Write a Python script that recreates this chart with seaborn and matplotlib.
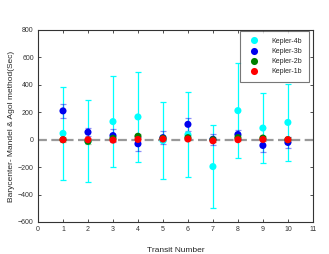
import numpy as np
import pandas as pd
import matplotlib
matplotlib.use("Agg")
import matplotlib.pyplot as plt
import seaborn as sns

transit = [1, 2, 3, 4, 5, 6, 7, 8, 9, 10]

k4_val = [46, -12, 132, 166, -7, 37, -196, 212, 85, 126]
k4_err = [340, 300, 329, 331, 279, 311, 303, 344, 257, 282]

k3_val = [210, 55, 30, -30, 15, 112, 3, 38, -42, -20]
k3_err = [50, 27, 50, 50, 45, 45, 40, 30, 45, 38]

k2_val = [0, -12, 10, 25, 10, 15, 0, 15, 12, 0]
k2_err = [18, 18, 18, 18, 18, 18, 18, 18, 18, 18]

k1_val = [0, 0, -3, 2, 5, 5, -8, 0, 2, 0]
k1_err = [10, 10, 10, 10, 10, 10, 10, 10, 10, 10]

names = ["Kepler-4b", "Kepler-3b", "Kepler-2b", "Kepler-1b"]
colors = ["#00ffff", "#0000ee", "#007f00", "#ff0000"]
vals = [k4_val, k3_val, k2_val, k1_val]
errs = [k4_err, k3_err, k2_err, k1_err]

sns.set_style("ticks")
plt.rcParams['font.family'] = ['Liberation Sans', 'DejaVu Sans']

fig = plt.figure(figsize=(3.29, 2.54), dpi=100)
ax = fig.add_axes([0.1155, 0.126, 0.8355, 0.756])

ax.axhline(0, color="#999999", lw=1.6, ls=(0, (4, 2)), zorder=1)

rows = []
for n, v in zip(names, vals):
    for t, y in zip(transit, v):
        rows.append({"Transit": t, "Value": y, "Planet": n})
df = pd.DataFrame(rows)

err_alpha = [1.0, 0.45, 0.35, 0.3]
for i, (n, c, v, e) in enumerate(zip(names, colors, vals, errs)):
    ax.errorbar(transit, v, yerr=e, fmt="none", ecolor=c, elinewidth=0.9,
                capsize=2.5, capthick=0.9, alpha=err_alpha[i], zorder=2 + i)

sns.scatterplot(data=df, x="Transit", y="Value", hue="Planet",
                hue_order=names, palette=colors, s=26, edgecolor="none",
                ax=ax, zorder=10, legend=True)

ax.set_xlim(0, 11)
ax.set_ylim(-600, 800)
ax.set_xticks(range(0, 12))
ax.set_yticks(range(-600, 801, 200))
ax.tick_params(direction="in", length=2.5, width=0.6, labelsize=5,
               top=True, right=True, colors="#333333", pad=3)
for s in ax.spines.values():
    s.set_linewidth(0.8)
    s.set_color("#333333")
ax.set_xlabel("Transit Number", fontsize=6, labelpad=10)
ax.set_ylabel("Barycenter- Mandel & Agol method(Sec)", fontsize=6, labelpad=2)

leg = ax.legend(loc="upper right", fontsize=5, frameon=True, fancybox=False,
                borderpad=1.0, labelspacing=0.45, handletextpad=1.5,
                markerscale=1.0, bbox_to_anchor=(0.987, 0.995),
                borderaxespad=0)
leg.get_frame().set_edgecolor("#555555")
leg.get_frame().set_linewidth(0.8)

fig.savefig("out.png", dpi=100)
